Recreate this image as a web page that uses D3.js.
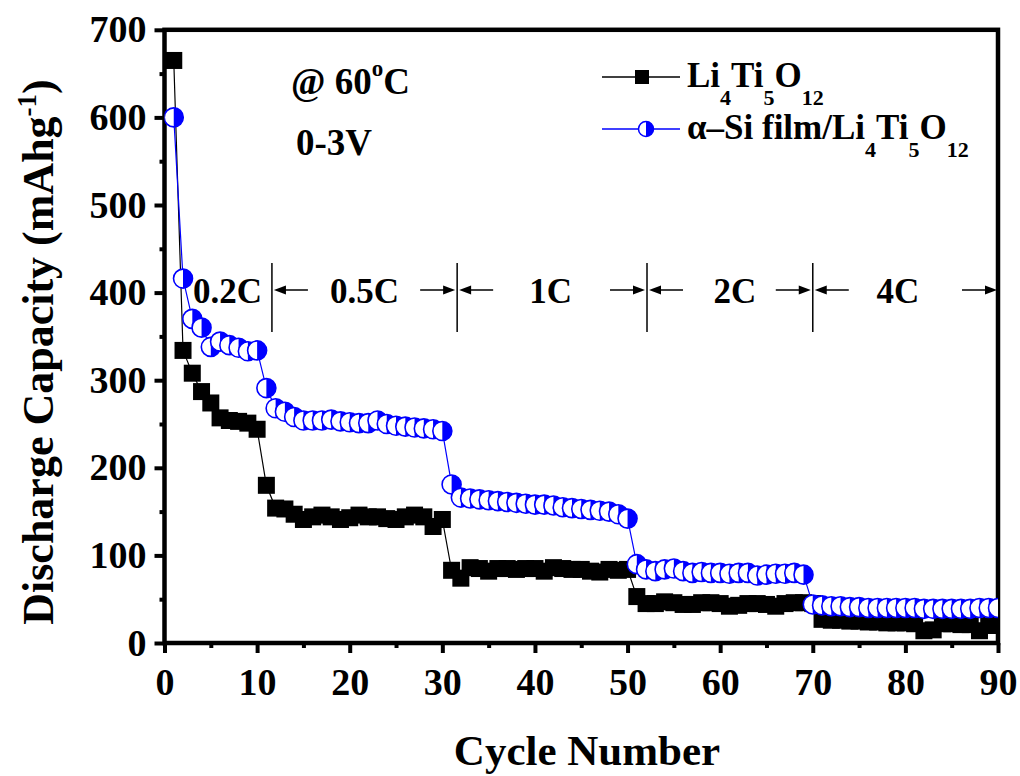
<!DOCTYPE html>
<html>
<head>
<meta charset="utf-8">
<script src="https://cdn.jsdelivr.net/npm/d3@7/dist/d3.min.js"></script>
<style>
  html, body { margin: 0; padding: 0; background: #fff; }
  svg { display: block; }
  text { font-family: "Liberation Serif", "Times New Roman", Times, serif; font-weight: bold; fill: #000; }
</style>
</head>
<body>
<svg id="chart" width="1020" height="776"></svg>
<script>
// Cycle numbers (1..90)
const cycles = [
  1,2,3,4,5,6,7,8,9,10,11,12,13,14,15,16,17,18,19,20,
  21,22,23,24,25,26,27,28,29,30,31,32,33,34,35,36,37,38,39,40,
  41,42,43,44,45,46,47,48,49,50,51,52,53,54,55,56,57,58,59,60,
  61,62,63,64,65,66,67,68,69,70,71,72,73,74,75,76,77,78,79,80,
  81,82,83,84,85,86,87,88,89,90
];

// Discharge capacity (mAh/g) of bare Li4Ti5O12
const ltoCapacity = [
  665,334,308,287,274,257,254,253,251,244,
  180,154,153,147,141,144,146,144,141,143,
  146,144,144,142,141,144,146,144,133,141,
  83,74,86,85,82,85,85,84,85,85,
  82,86,85,84,84,82,81,84,83,84,
  53,45,45,47,46,44,44,46,46,45,
  42,43,45,45,44,42,45,46,46,45,
  27,26,26,25,25,24,24,23,23,23,
  22,14,15,22,22,21,21,14,20,20
];

// Discharge capacity (mAh/g) of α-Si film coated Li4Ti5O12
const siLtoCapacity = [
  600,416,370,360,338,344,340,337,333,334,
  291,268,264,258,254,254,254,255,253,252,
  251,251,254,250,248,247,246,245,244,242,
  181,166,165,164,163,162,161,160,159,158,
  158,157,155,154,153,152,151,150,147,142,
  90,84,82,84,85,82,80,81,80,80,
  79,80,80,77,78,79,79,80,78,44,
  43,42,42,41,41,40,40,40,40,40,
  40,39,39,39,39,39,39,40,40,40
];

// Axis ticks
const xTicks = [0,10,20,30,40,50,60,70,80,90];
const xMinorTicks = [5,15,25,35,45,55,65,75,85];
const yTicks = [0,100,200,300,400,500,600,700];
const yMinorTicks = [50,150,250,350,450,550,650];

// C-rate steps: labels, label centres and step boundaries (in cycles)
const rateLabels = ["0.2C","0.5C","1C","2C","4C"];
const rateLabelCycle = [6.8, 21.6, 41.7, 61.6, 79.2];
const rateBounds = [11.6, 31.6, 52.1, 70.0];

const svg = d3.select("#chart");

const x = d3.scaleLinear().domain([0, 90]).range([164.5, 998]);
const y = d3.scaleLinear().domain([0, 700]).range([643, 29.8]);

const plotL = x(0), plotR = x(90), plotT = y(700), plotB = y(0);

// clip region for the data
svg.append("defs").append("clipPath").attr("id", "plotClip")
  .append("rect")
  .attr("x", plotL).attr("y", plotT)
  .attr("width", plotR - plotL).attr("height", plotB - plotT);

// ---- axes ----
const axisW = 4.5;
const xAxis = d3.axisBottom(x).tickValues(xTicks).tickSize(10).tickSizeOuter(0).tickPadding(15);
const xAxisMinor = d3.axisBottom(x).tickValues(xMinorTicks).tickSize(5).tickSizeOuter(0).tickFormat("");
const yAxis = d3.axisLeft(y).tickValues(yTicks).tickSize(10).tickSizeOuter(0).tickPadding(8);
const yAxisMinor = d3.axisLeft(y).tickValues(yMinorTicks).tickSize(5).tickSizeOuter(0).tickFormat("");

function styleAxis(g) {
  g.selectAll("path.domain").remove();
  g.selectAll(".tick line").attr("stroke", "#000").attr("stroke-width", 4);
  g.selectAll(".tick text").style("font-size", "38px").attr("fill", "#000");
}

svg.append("g").attr("transform", `translate(0,${plotB})`).call(xAxisMinor).call(styleAxis);
svg.append("g").attr("transform", `translate(0,${plotB})`).call(xAxis).call(styleAxis);
svg.append("g").attr("transform", `translate(${plotL},0)`).call(yAxisMinor).call(styleAxis);
svg.append("g").attr("transform", `translate(${plotL},0)`).call(yAxis).call(styleAxis);

// frame
svg.append("rect")
  .attr("x", plotL).attr("y", plotT)
  .attr("width", plotR - plotL).attr("height", plotB - plotT)
  .attr("fill", "none").attr("stroke", "#000").attr("stroke-width", axisW);

// ---- axis titles ----
svg.append("text")
  .attr("x", 587).attr("y", 765)
  .attr("text-anchor", "middle")
  .style("font-size", "43px")
  .text("Cycle Number");

const yTitle = svg.append("text")
  .attr("transform", "translate(53,352) rotate(-90)")
  .attr("text-anchor", "middle")
  .style("font-size", "44px");
yTitle.append("tspan").text("Discharge Capacity (mAhg");
yTitle.append("tspan").style("font-size", "27px").attr("dy", -17).text("-1");
yTitle.append("tspan").attr("dy", 17).text(")");

// ---- data ----
const ltoData = cycles.map((c, i) => ({ c, v: ltoCapacity[i] }));
const siData = cycles.map((c, i) => ({ c, v: siLtoCapacity[i] }));
const line = d3.line().x(d => x(d.c)).y(d => y(d.v));

const plot = svg.append("g").attr("clip-path", "url(#plotClip)");

const sq = 17;
plot.append("path").datum(ltoData)
  .attr("d", line).attr("fill", "none").attr("stroke", "#000").attr("stroke-width", 1.2);
plot.append("g").selectAll("rect").data(ltoData).join("rect")
  .attr("x", d => x(d.c) - sq / 2).attr("y", d => y(d.v) - sq / 2)
  .attr("width", sq).attr("height", sq).attr("fill", "#000");

const r = 9.5;
const rightHalf = rr => `M0,${-rr}A${rr},${rr} 0 0 1 0,${rr}Z`;
plot.append("path").datum(siData)
  .attr("d", line).attr("fill", "none").attr("stroke", "#0000ff").attr("stroke-width", 1.2);
const dots = plot.append("g").selectAll("g").data(siData).join("g")
  .attr("transform", d => `translate(${x(d.c)},${y(d.v)})`);
dots.append("circle").attr("r", r).attr("fill", "#fff").attr("stroke", "#0000ff").attr("stroke-width", 1.6);
dots.append("path").attr("d", rightHalf(r)).attr("fill", "#0000ff");

// ---- C-rate annotations ----
const arrowY = 290;
const ann = svg.append("g");
function arrow(xTail, xTip) {
  const dir = Math.sign(xTip - xTail);
  ann.append("line")
    .attr("x1", xTail).attr("y1", arrowY).attr("x2", xTip - dir * 8).attr("y2", arrowY)
    .attr("stroke", "#000").attr("stroke-width", 1.5);
  ann.append("path")
    .attr("d", `M${xTip},${arrowY}L${xTip - dir * 12},${arrowY - 4.5}L${xTip - dir * 12},${arrowY + 4.5}Z`)
    .attr("fill", "#000");
}
rateBounds.forEach((b, i) => {
  const bx = x(b);
  ann.append("line")
    .attr("x1", bx).attr("x2", bx).attr("y1", 263).attr("y2", 332)
    .attr("stroke", "#000").attr("stroke-width", 1.5);
  if (i > 0) arrow(bx - 37, bx - 2);
  arrow(bx + 36, bx + 2);
});
arrow(plotR - 36, plotR - 1);

rateLabels.forEach((t, i) => {
  ann.append("text")
    .attr("x", x(rateLabelCycle[i])).attr("y", 303)
    .attr("text-anchor", "middle")
    .style("font-size", "35px")
    .text(t);
});

// test conditions
const cond = svg.append("text").attr("x", 291).attr("y", 94).style("font-size", "37px");
cond.append("tspan").text("@ 60");
cond.append("tspan").style("font-size", "23px").attr("dy", -18).text("o");
cond.append("tspan").attr("dy", 18).text("C");
svg.append("text").attr("x", 296).attr("y", 155).style("font-size", "37px").text("0-3V");

// ---- legend ----
const leg = svg.append("g");
const legRows = [
  { y: 77, color: "#000", kind: "square", pre: "" },
  { y: 129, color: "#0000ff", kind: "circle", pre: "α–Si film/" }
];
legRows.forEach(row => {
  leg.append("line")
    .attr("x1", 602).attr("x2", 680).attr("y1", row.y).attr("y2", row.y)
    .attr("stroke", row.color).attr("stroke-width", 1.4);
  if (row.kind === "square") {
    leg.append("rect").attr("x", 642 - 7).attr("y", row.y - 7)
      .attr("width", 14).attr("height", 14).attr("fill", "#000");
  } else {
    const g = leg.append("g").attr("transform", `translate(646,${row.y})`);
    g.append("circle").attr("r", 7.5).attr("fill", "#fff").attr("stroke", "#0000ff").attr("stroke-width", 1.5);
    g.append("path").attr("d", rightHalf(7.5)).attr("fill", "#0000ff");
  }
  const t = leg.append("text").attr("x", 687).attr("y", row.y + 10).style("font-size", "35px");
  const parts = [[row.pre + "Li", false], ["4", true], ["Ti", false], ["5", true], ["O", false], ["12", true]];
  let shifted = false;
  parts.forEach(([s, sub]) => {
    const ts = t.append("tspan").text(s);
    if (sub) { ts.style("font-size", "22px"); if (!shifted) { ts.attr("dy", 18); shifted = true; } }
    else if (shifted) { ts.attr("dy", -18); shifted = false; }
  });
});
</script>
</body>
</html>
